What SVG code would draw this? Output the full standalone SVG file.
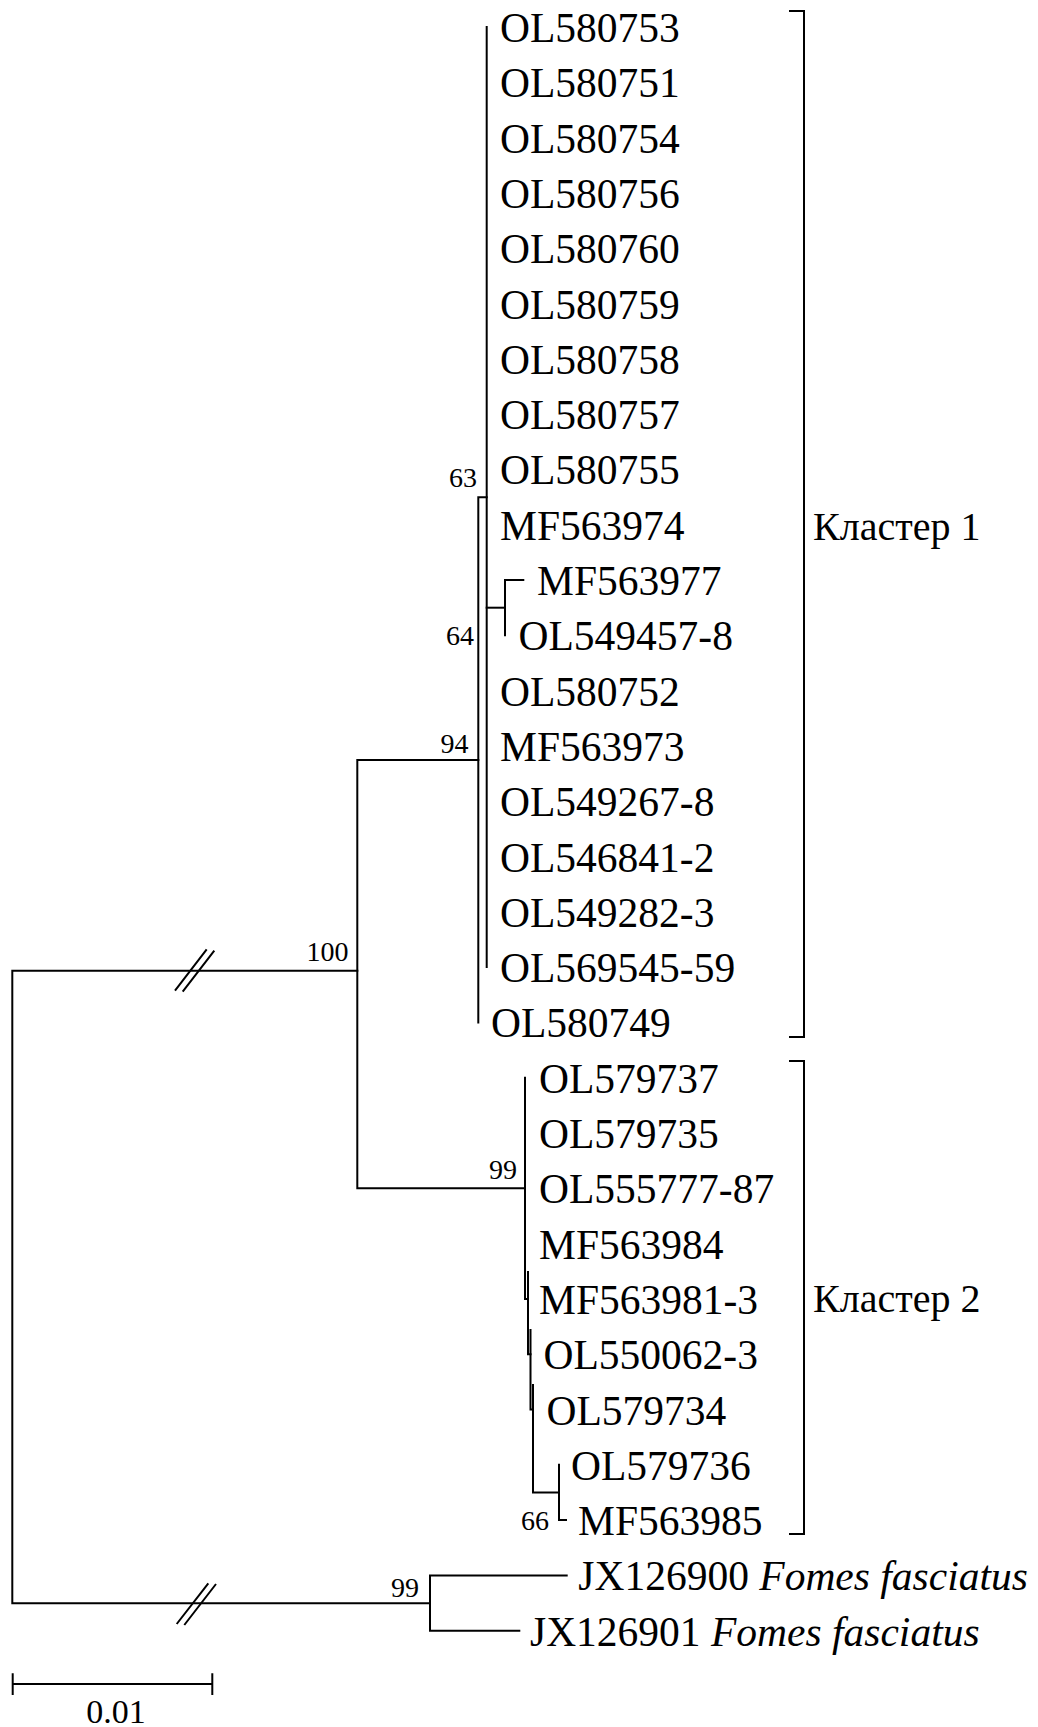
<svg xmlns="http://www.w3.org/2000/svg" width="1038" height="1727" viewBox="0 0 1038 1727">
<style>
.ln{stroke:#000;stroke-width:2;fill:none;stroke-linecap:square;stroke-linejoin:miter}
.brk{stroke:#000;stroke-width:2;fill:none}
.lbl{font-family:"Liberation Serif","Times New Roman",serif;font-size:41.5px;fill:#000}
.bs{font-family:"Liberation Serif","Times New Roman",serif;font-size:28px;fill:#000;text-anchor:end}
.cl{font-family:"Liberation Serif","Times New Roman",serif;font-size:40px;fill:#000}
.sc{font-family:"Liberation Serif","Times New Roman",serif;font-size:34px;fill:#000;text-anchor:middle}
</style>
<rect width="1038" height="1727" fill="#fff"/>
<g id="connectors">
<path class="ln" d="M357.3 970.7H12.3V1603.3H430"/>
<path class="ln" d="M478.3 760H357.3V1188.3H525"/>
<path class="ln" d="M478.3 1022.4V497.3H486.7"/>
<path class="ln" d="M486.7 27V967.1"/>
<path class="ln" d="M486.7 607.7H505"/>
<path class="ln" d="M505 635.3V580H523.3"/>
<path class="ln" d="M525 1077.7V1298.9H528"/>
<path class="ln" d="M528 1272V1354.2H530.5"/>
<path class="ln" d="M530.5 1330V1409.5H533"/>
<path class="ln" d="M533 1385V1492.5H559"/>
<path class="ln" d="M559 1464.8V1520.1H566"/>
<path class="ln" d="M566.7 1575.4H430V1630.7H519.3"/>
<path class="brk" d="M175 990.7L206.7 949.3M182.7 991.7L214.3 950.7"/>
<path class="brk" d="M176.7 1624L208.3 1583.3M184.3 1625L216 1584"/>
<path class="ln" d="M790 11H804V1037H790"/>
<path class="ln" d="M790 1061H804V1534H790"/>
</g>
<g id="bootstrap">
<text class="bs" x="477" y="487">63</text>
<text class="bs" x="474" y="645">64</text>
<text class="bs" x="468.5" y="752.5">94</text>
<text class="bs" x="348.5" y="961">100</text>
<text class="bs" x="517" y="1179">99</text>
<text class="bs" x="549" y="1530">66</text>
<text class="bs" x="419" y="1597">99</text>
</g>
<g id="n-OL580753"><text class="lbl" x="500" y="42">OL580753</text></g>
<g id="n-OL580751"><text class="lbl" x="500" y="97.3">OL580751</text></g>
<g id="n-OL580754"><text class="lbl" x="500" y="152.6">OL580754</text></g>
<g id="n-OL580756"><text class="lbl" x="500" y="207.9">OL580756</text></g>
<g id="n-OL580760"><text class="lbl" x="500" y="263.2">OL580760</text></g>
<g id="n-OL580759"><text class="lbl" x="500" y="318.5">OL580759</text></g>
<g id="n-OL580758"><text class="lbl" x="500" y="373.8">OL580758</text></g>
<g id="n-OL580757"><text class="lbl" x="500" y="429.1">OL580757</text></g>
<g id="n-OL580755"><text class="lbl" x="500" y="484.4">OL580755</text></g>
<g id="n-MF563974"><text class="lbl" x="500" y="539.7">MF563974</text></g>
<g id="n-MF563977"><text class="lbl" x="537" y="595">MF563977</text></g>
<g id="n-OL549457-8"><text class="lbl" x="518.5" y="650.3">OL549457-8</text></g>
<g id="n-OL580752"><text class="lbl" x="500" y="705.6">OL580752</text></g>
<g id="n-MF563973"><text class="lbl" x="500" y="760.9">MF563973</text></g>
<g id="n-OL549267-8"><text class="lbl" x="500" y="816.2">OL549267-8</text></g>
<g id="n-OL546841-2"><text class="lbl" x="500" y="871.5">OL546841-2</text></g>
<g id="n-OL549282-3"><text class="lbl" x="500" y="926.8">OL549282-3</text></g>
<g id="n-OL569545-59"><text class="lbl" x="500" y="982.1">OL569545-59</text></g>
<g id="n-OL580749"><text class="lbl" x="491" y="1037.4">OL580749</text></g>
<g id="n-OL579737"><text class="lbl" x="539" y="1092.7">OL579737</text></g>
<g id="n-OL579735"><text class="lbl" x="539" y="1148">OL579735</text></g>
<g id="n-OL555777-87"><text class="lbl" x="539" y="1203.3">OL555777-87</text></g>
<g id="n-MF563984"><text class="lbl" x="539" y="1258.6">MF563984</text></g>
<g id="n-MF563981-3"><text class="lbl" x="539" y="1313.9">MF563981-3</text></g>
<g id="n-OL550062-3"><text class="lbl" x="543.5" y="1369.2">OL550062-3</text></g>
<g id="n-OL579734"><text class="lbl" x="546.5" y="1424.5">OL579734</text></g>
<g id="n-OL579736"><text class="lbl" x="571" y="1479.8">OL579736</text></g>
<g id="n-MF563985"><text class="lbl" x="578" y="1535.1">MF563985</text></g>
<g id="n-JX126900"><text class="lbl" x="578.3" y="1590.4">JX126900 <tspan font-style="italic">Fomes fasciatus</tspan></text></g>
<g id="n-JX126901"><text class="lbl" x="530" y="1645.7">JX126901 <tspan font-style="italic">Fomes fasciatus</tspan></text></g>
<g id="cluster1"><text class="cl" x="813" y="539.7">Кластер 1</text></g>
<g id="cluster2"><text class="cl" x="813" y="1312">Кластер 2</text></g>
<g id="scalebar">
<path class="ln" d="M12.7 1684H212.3M12.7 1674.3V1694M212.3 1674.3V1694"/>
<text class="sc" x="116" y="1723">0.01</text>
</g>
</svg>
